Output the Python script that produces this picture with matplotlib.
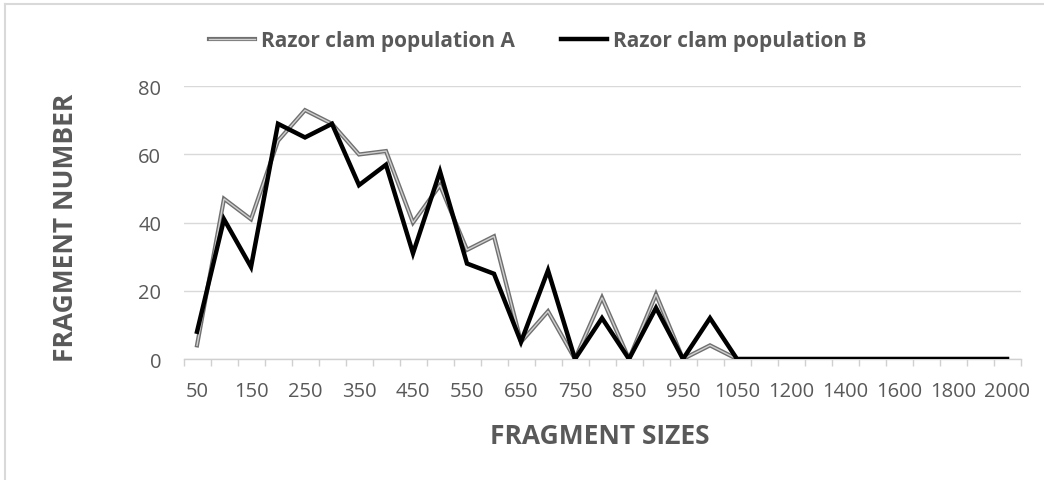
import matplotlib
matplotlib.use("Agg")
import matplotlib.pyplot as plt
import matplotlib.patheffects as pe
from matplotlib.lines import Line2D
import numpy as np

# fragment size categories (bp)
sizes = [50, 100, 150, 200, 250, 300, 350, 400, 450, 500, 550, 600, 650, 700,
         750, 800, 850, 900, 950, 1000, 1050, 1100, 1200, 1300, 1400, 1500,
         1600, 1700, 1800, 1900, 2000]

pop_a = [4, 47, 41, 64, 73, 69, 60, 61, 40, 51, 32, 36, 5, 14,
         0, 18, 0, 19, 0, 4, 0, 0, 0, 0, 0, 0, 0, 0, 0, 0, 0]
pop_b = [8, 41, 27, 69, 65, 69, 51, 57, 31, 55, 28, 25, 5, 26,
         0, 12, 0, 15, 0, 12, 0, 0, 0, 0, 0, 0, 0, 0, 0, 0, 0]

label_a = 'Razor clam population A'
label_b = 'Razor clam population B'
yticks = [0, 20, 40, 60, 80]

plt.rcParams['font.family'] = ['Open Sans', 'DejaVu Sans']
txt_color = '#595959'

fig = plt.figure(figsize=(10.44, 4.81), dpi=100)
ax = fig.add_axes([183.5 / 1044, 1 - 360 / 481, 837 / 1044, (360 - 87.3) / 481])

x = np.arange(len(sizes))

# gray double-line effect for population A
a_effect = [pe.Stroke(linewidth=3.0, foreground='#707070'), pe.Normal()]
ax.plot(x, pop_a, color='#d0d0d0', lw=1.0, path_effects=a_effect,
        solid_joinstyle='miter', zorder=3)
ax.plot(x, pop_b, color='black', lw=3.2, solid_joinstyle='miter', zorder=4)

ax.set_xlim(-0.5, len(sizes) - 0.5)
ax.set_ylim(0, 80)
ax.set_yticks(yticks)
ax.grid(axis='y', color='#d9d9d9', lw=1.0)
ax.set_axisbelow(True)

for s in ['top', 'right', 'left']:
    ax.spines[s].set_visible(False)
ax.spines['bottom'].set_color('#d0d0d0')
ax.spines['bottom'].set_linewidth(1.0)

ax.set_xticks(x[::2])
ax.set_xticklabels([str(s) for s in sizes[::2]])
ax.set_xticks(np.arange(-0.5, len(sizes), 1.0), minor=True)
ax.tick_params(axis='x', which='major', length=0, pad=16, labelsize=14.5,
               labelcolor=txt_color)
ax.tick_params(axis='x', which='minor', length=5, width=1.0, color='#d0d0d0')
ax.tick_params(axis='y', length=0, pad=16, labelsize=14.5, labelcolor=txt_color)

ax.set_xlabel('FRAGMENT SIZES', fontsize=19, fontweight='bold', color=txt_color,
              va='center')
ax.set_ylabel('FRAGMENT NUMBER', fontsize=19, fontweight='bold', color=txt_color,
              va='center')
ax.xaxis.set_label_coords((600 - 183.5) / 837, (360 - 437) / 272.7)
ax.yaxis.set_label_coords((66 - 183.5) / 837, (360 - 228) / 272.7)

handles = [
    Line2D([], [], color='#d0d0d0', lw=1.0, path_effects=a_effect),
    Line2D([], [], color='black', lw=3.2),
]
fig.legend(handles, [label_a, label_b], loc='center', bbox_to_anchor=(0.515, 1 - 42 / 481),
           ncol=2, frameon=False, handlelength=2.2, handletextpad=0.3,
           columnspacing=2.2, prop={'size': 15, 'weight': 'bold'},
           labelcolor=txt_color)

# light border around chart area
fig.add_artist(Line2D([5 / 1044, 1], [1 - 5 / 481, 1 - 5 / 481], color='#d9d9d9', lw=1.5))
fig.add_artist(Line2D([5 / 1044, 5 / 1044], [0, 1 - 5 / 481], color='#d9d9d9', lw=1.5))

fig.savefig('out.png', dpi=100)
